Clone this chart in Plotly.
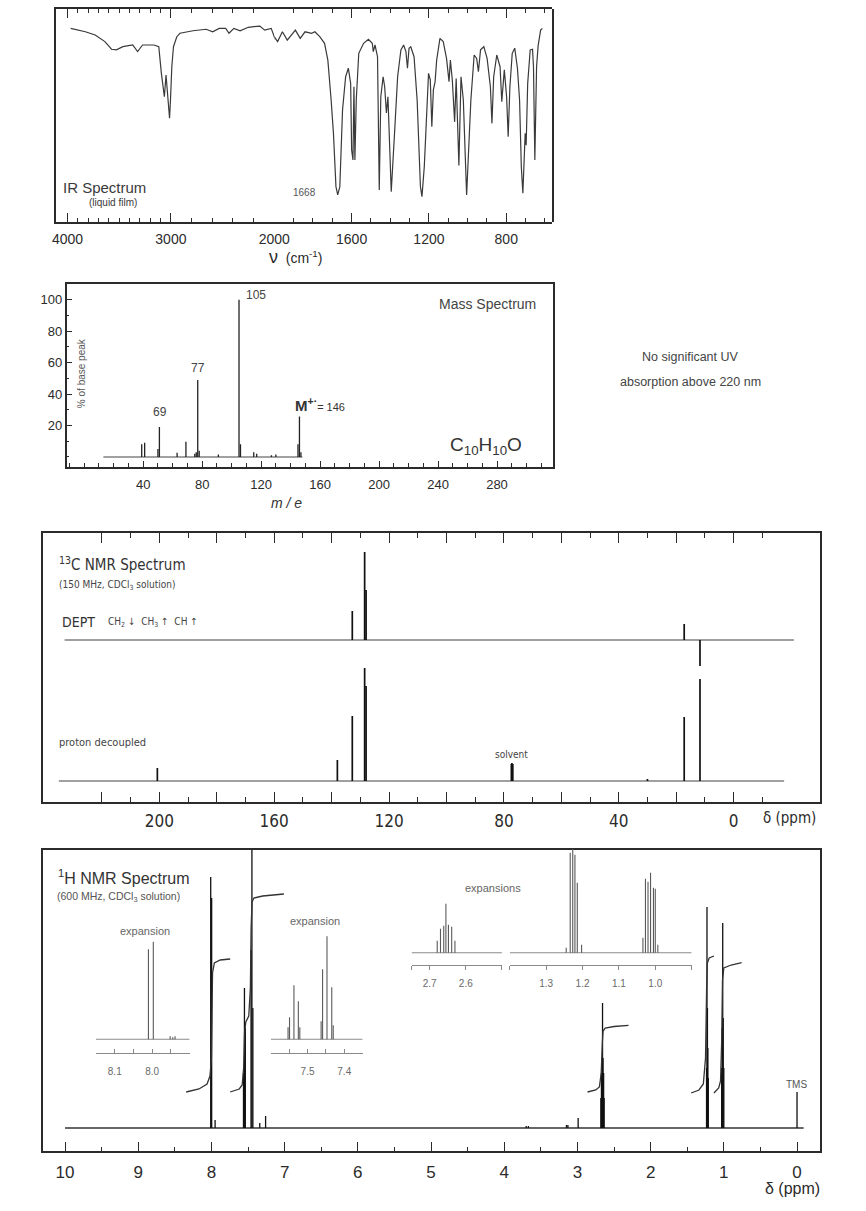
import plotly.graph_objects as go

W, H = 866, 1211

# ---------------- data ----------------
# IR spectrum (wavenumber cm-1, transmittance %)
ir_wavenumber = [3969, 3827, 3732, 3638, 3574, 3527, 3464, 3369, 3322, 3274,
                 3164, 3117, 3092, 3076, 3063, 3047, 3038, 3022, 3013, 3004,
                 2991, 2975, 2943, 2912, 2786, 2659, 2596, 2533, 2470, 2438,
                 2391, 2331, 2252, 2140, 2093, 2030, 1983, 1958, 1933, 1891,
                 1866, 1841, 1807, 1790, 1765, 1740, 1723, 1706, 1694, 1681,
                 1672, 1661, 1647, 1631, 1617, 1605, 1600, 1593, 1588, 1583,
                 1576, 1563, 1538, 1513, 1493, 1488, 1479, 1466, 1457, 1449,
                 1437, 1429, 1420, 1412, 1395, 1378, 1362, 1345, 1331, 1319,
                 1311, 1303, 1294, 1277, 1261, 1244, 1236, 1224, 1210, 1202,
                 1193, 1185, 1177, 1168, 1160, 1143, 1126, 1109, 1096, 1089,
                 1079, 1067, 1059, 1045, 1034, 1022, 1005, 983, 966, 953,
                 944, 933, 916, 899, 882, 874, 865, 849, 832, 823,
                 810, 798, 790, 781, 769, 756, 742, 731, 722, 714,
                 702, 697, 689, 676, 664, 659, 652, 643, 635, 622,
                 613]
ir_transmittance = [90.9, 89.3, 87.8, 84.7, 81.1, 80.8, 82.3, 83.1, 80.0, 83.1,
                    83.1, 82.3, 69.8, 63.5, 58.8, 69.0, 63.5, 57.3, 48.7, 57.3,
                    72.9, 82.3, 87.0, 88.6, 89.8, 90.5, 89.3, 90.9, 90.9, 88.6,
                    90.9, 89.8, 91.4, 92.0, 90.1, 90.9, 84.7, 89.3, 85.4, 90.1,
                    86.2, 89.3, 88.6, 89.3, 87.0, 83.9, 76.0, 57.3, 41.6, 16.6,
                    12.7, 16.6, 52.6, 68.2, 72.2, 65.1, 33.8, 29.1, 63.5, 29.1,
                    57.3, 79.2, 83.9, 85.8, 83.9, 80.0, 83.1, 77.6, 15.0, 58.8,
                    68.2, 63.5, 51.2, 58.8, 14.2, 41.6, 68.2, 80.8, 83.1, 80.0,
                    72.2, 81.6, 82.3, 77.6, 57.3, 16.6, 11.9, 26.0, 57.3, 69.8,
                    66.7, 44.7, 62.0, 65.9, 76.0, 86.2, 84.7, 76.8, 65.9, 76.0,
                    66.7, 47.0, 67.4, 26.5, 68.2, 57.3, 12.7, 57.3, 78.4, 76.8,
                    70.6, 80.8, 82.3, 76.8, 63.5, 46.3, 68.2, 78.4, 72.9, 56.5,
                    71.4, 58.8, 40.0, 63.5, 79.2, 81.6, 72.2, 57.3, 26.0, 13.5,
                    41.6, 36.0, 65.1, 80.8, 81.1, 72.9, 29.1, 72.9, 82.8, 90.1,
                    90.9]
ir_ticks_high = [4000, 3000, 2000]
ir_ticks_low = [1600, 1200, 800]

# Mass spectrum (m/e, % of base peak)
ms_mz = [39, 41, 50, 51, 63, 69, 75, 76, 77, 78, 91, 105, 106, 115, 117, 127, 130, 145, 146, 147]
ms_intensity = [8, 9, 5, 19, 2.6, 9.7, 2, 3, 49, 4, 1.5, 100, 8, 3, 2, 1, 1.5, 8, 25.8, 3]
ms_scan = [13, 148]
ms_xticks = [40, 80, 120, 160, 200, 240, 280]
ms_yticks = [20, 40, 60, 80, 100]

# 13C NMR (ppm, relative height)
c13_ppm = [200.7, 138.0, 132.8, 128.5, 128.0, 77.4, 77.2, 76.9, 30.0, 17.2, 11.7]
c13_height = [13, 21, 65, 113, 95, 17, 18, 17, 2, 64, 102]
dept_ppm = [132.8, 128.5, 128.0, 17.2, 11.7]
dept_height = [29, 88, 50, 16, -26]
c13_scan = [235, -17.6]
dept_scan = [233, -21]
c13_ticks = [200, 160, 120, 80, 40, 0]

# 1H NMR (ppm, relative height)
h1_ppm = [8.010, 7.997, 7.950,
          7.562, 7.549, 7.537, 7.459, 7.447, 7.434, 7.340, 7.260,
          3.700, 3.670, 3.150, 3.130, 2.990,
          2.680, 2.672, 2.664, 2.657, 2.650, 2.642, 2.635,
          1.236, 1.230, 1.224, 1.218, 1.212,
          1.030, 1.022, 1.015, 1.008, 1.000, 0.000]
h1_height = [251, 230, 8,
             55, 140, 100, 178, 278, 120, 5, 12,
             2, 2, 3, 3, 10,
             30, 55, 70, 125, 70, 55, 30,
             60, 221, 120, 80, 50,
             60, 100, 205, 110, 60, 36]
h1_scan = [10.0, -0.09]
h1_ticks = [10, 9, 8, 7, 6, 5, 4, 3, 2, 1, 0]

# integral curves (ppm, integral trace height)
int1_ppm = [8.345, 8.17, 8.06, 8.02, 8.00, 7.99, 7.985, 7.96, 7.88, 7.744]
int1_val = [36, 39, 44, 52, 70, 110, 155, 165, 168, 169]
int2_ppm = [7.744, 7.62, 7.58, 7.56, 7.548, 7.53, 7.49, 7.468, 7.458, 7.445, 7.42, 7.30, 7.01]
int2_val = [36, 39, 43, 60, 95, 106, 112, 140, 200, 226, 230, 232, 234]
int3_ppm = [2.862, 2.75, 2.70, 2.675, 2.66, 2.65, 2.62, 2.50, 2.302]
int3_val = [36, 38, 41, 55, 85, 97, 100, 101.5, 102.7]
int4_ppm = [1.447, 1.34, 1.28, 1.25, 1.235, 1.225, 1.20, 1.135]
int4_val = [35, 38, 44, 70, 140, 165, 170, 172]
int5_ppm = [1.135, 1.07, 1.045, 1.03, 1.018, 1.00, 0.90, 0.757]
int5_val = [35, 40, 47, 85, 148, 160, 163, 165.3]

# expansions
exp1_range = [8.15, 7.90]
exp1_ppm = [8.010, 7.997, 7.952, 7.945, 7.939]
exp1_height = [90, 97.6, 3, 2, 3]
exp1_ticks = [8.1, 8.0]
exp1_minor = [8.15, 8.05, 7.95, 7.90]

exp2_range = [7.60, 7.35]
exp2_ppm = [7.553, 7.549, 7.537, 7.525, 7.521, 7.463, 7.459, 7.447, 7.434, 7.430]
exp2_height = [12, 22, 54, 38, 12, 18, 70, 103, 52, 14]
exp2_ticks = [7.5, 7.4]
exp2_minor = [7.60, 7.55, 7.45, 7.35]

exp3_range = [2.75, 2.50]
exp3_ppm = [2.679, 2.670, 2.661, 2.655, 2.648, 2.639, 2.630]
exp3_height = [12, 24, 27, 49, 28, 26, 12]
exp3_ticks = [2.7, 2.6]
exp3_minor = [2.75, 2.50]

exp4_range = [1.40, 0.90]
exp4_ppm = [1.245, 1.234, 1.227, 1.221, 1.2145, 1.2027,
            1.034, 1.027, 1.020, 1.013, 1.005, 1.000, 0.993]
exp4_height = [5, 100, 104, 98, 70, 8,
               15, 74, 71, 80, 65, 64, 8]
exp4_ticks = [1.3, 1.2, 1.1, 1.0]
exp4_minor = [1.4, 0.9]

# ---------------- layout helpers ----------------
FONT = "Liberation Sans, Arial, Helvetica, sans-serif"
NARROW = "Liberation Sans Narrow, DejaVu Sans Condensed, Arial Narrow, sans-serif"
INK = "#2b2b2b"


def xd(x0, x1):
    return [x0 / W, x1 / W]


def yd(top, bottom):
    return [1 - bottom / H, 1 - top / H]


def sticks(xs, hs):
    X, Y = [], []
    for x, h in zip(xs, hs):
        X += [x, x, None]
        Y += [0, h, None]
    return X, Y


fig = go.Figure()


def line(x, y, xa, ya, color=INK, width=1.2):
    fig.add_trace(go.Scatter(x=x, y=y, xaxis=xa, yaxis=ya, mode='lines',
                             line=dict(color=color, width=width),
                             hoverinfo='skip', showlegend=False))


def frame_pair(xa, ya):
    # empty trace so that the frame axis pair exists as a subplot
    fig.add_trace(go.Scatter(x=[None], y=[None], xaxis=xa, yaxis=ya, mode='lines',
                             hoverinfo='skip', showlegend=False))


# IR
frame_pair('x2', 'y2')
hi = [(v, t) for v, t in zip(ir_wavenumber, ir_transmittance) if v > 1950]
lo = [(v, t) for v, t in zip(ir_wavenumber, ir_transmittance) if v < 2050]
line([p[0] for p in hi], [p[1] for p in hi], 'x', 'y', '#3a3a3a', 1.2)
line([p[0] for p in lo], [p[1] for p in lo], 'x2', 'y', '#3a3a3a', 1.2)

# MS
line(ms_scan, [0, 0], 'x3', 'y3', '#444', 1.1)
sx, sy = sticks(ms_mz, ms_intensity)
line(sx, sy, 'x3', 'y3', '#222', 1.3)

# 13C
frame_pair('x4', 'y6')
line(dept_scan, [0, 0], 'x4', 'y4', '#808080', 1.6)
sx, sy = sticks(dept_ppm, dept_height)
line(sx, sy, 'x4', 'y4', '#111', 1.7)
line(c13_scan, [0, 0], 'x4', 'y5', '#808080', 1.6)
sx, sy = sticks(c13_ppm, c13_height)
line(sx, sy, 'x4', 'y5', '#111', 1.7)

# 1H main
frame_pair('x5', 'y8')
line(h1_scan, [0, 0], 'x5', 'y7', '#333', 1.3)
sx, sy = sticks(h1_ppm, h1_height)
line(sx, sy, 'x5', 'y7', '#111', 1.3)
for ip, iv in [(int1_ppm, int1_val), (int2_ppm, int2_val), (int3_ppm, int3_val),
               (int4_ppm, int4_val), (int5_ppm, int5_val)]:
    line(ip, iv, 'x5', 'y7', '#333', 1.3)

# expansions
for xa, ya, rng, pp, hh in [('x6', 'y9', exp1_range, exp1_ppm, exp1_height),
                            ('x7', 'y10', exp2_range, exp2_ppm, exp2_height),
                            ('x8', 'y11', exp3_range, exp3_ppm, exp3_height),
                            ('x9', 'y12', exp4_range, exp4_ppm, exp4_height)]:
    line(rng, [0, 0], xa, ya, '#8a8a8a', 1.1)
    sx, sy = sticks(pp, hh)
    line(sx, sy, xa, ya, '#5a5a5a', 1.1)


# ---------------- axes ----------------
def base_axis(**kw):
    d = dict(showgrid=False, zeroline=False, linecolor=INK, tickcolor=INK,
             tickfont=dict(family=FONT, size=14, color=INK))
    d.update(kw)
    return d


def labels(vals, shown):
    return [str(v) if v in shown else '' for v in vals]


layout_axes = {}
# IR
layout_axes['xaxis'] = base_axis(domain=xd(53, 276.7), range=[4113, 2000], anchor='y',
                                 showline=True, linewidth=1.5, mirror='ticks', ticks='inside',
                                 ticklen=9, tickwidth=1.2, tickmode='array',
                                 tickvals=ir_ticks_high, ticktext=[str(v) for v in ir_ticks_high],
                                 ticklabelstandoff=3,
                                 minor=dict(tickvals=list(range(3800, 2000, -200)) + [3900, 3700, 3500, 3300, 3100],
                                            ticklen=4, tickcolor=INK, ticks='inside'))
layout_axes['xaxis2'] = base_axis(domain=xd(276.7, 561), range=[2000, 563], anchor='y',
                                  showline=True, linewidth=1.5, mirror='ticks', ticks='inside',
                                  ticklen=9, tickwidth=1.2, tickmode='array',
                                  tickvals=ir_ticks_low, ticktext=[str(v) for v in ir_ticks_low],
                                  ticklabelstandoff=3,
                                  minor=dict(tickvals=[v for v in range(1900, 550, -100) if v not in ir_ticks_low],
                                             ticklen=4, tickcolor=INK, ticks='inside'))
layout_axes['yaxis'] = base_axis(domain=yd(9, 222), range=[0, 100], anchor='x', showline=True,
                                 linewidth=1.5, ticks='', showticklabels=False)
layout_axes['yaxis2'] = base_axis(domain=yd(9, 222), range=[0, 100], anchor='x2', side='right',
                                  showline=True, linewidth=1.5, ticks='', showticklabels=False)
# MS
layout_axes['xaxis3'] = base_axis(domain=xd(64, 562), range=[-12, 318], anchor='y3',
                                  showline=True, linewidth=1.5, mirror=True, ticks='inside',
                                  ticklen=6, tickmode='array', tickvals=ms_xticks,
                                  ticktext=[str(v) for v in ms_xticks],
                                  ticklabelstandoff=5, tickfont=dict(family=FONT, size=13, color=INK),
                                  minor=dict(dtick=10, ticklen=4, tickcolor=INK, ticks='inside'))
layout_axes['yaxis3'] = base_axis(domain=yd(284, 467), range=[-6.4, 110], anchor='x3',
                                  showline=True, linewidth=1.5, mirror=True, ticks='inside',
                                  ticklen=6, tickmode='array', tickvals=ms_yticks,
                                  ticktext=[str(v) for v in ms_yticks],
                                  tickfont=dict(family=FONT, size=13, color=INK),
                                  minor=dict(dtick=10, ticklen=3, tickcolor=INK, ticks='inside'))
# 13C
c13_major = list(range(220, -1, -20))
layout_axes['xaxis4'] = base_axis(domain=xd(40, 835), range=[240.5, -30], anchor='y6',
                                  showline=True, linewidth=1.5, mirror='ticks', ticks='inside',
                                  ticklen=10, tickwidth=1.2, tickmode='array', tickvals=c13_major,
                                  ticktext=labels(c13_major, c13_ticks), ticklabelstandoff=3,
                                  tickfont=dict(family=NARROW, size=17, color=INK),
                                  minor=dict(tickvals=list(range(210, -11, -20)), ticklen=5,
                                             tickcolor=INK, ticks='inside'))
layout_axes['yaxis6'] = base_axis(domain=yd(533, 802), range=[0, 1], anchor='x4', showline=True,
                                  linewidth=1.5, mirror=True, ticks='', showticklabels=False)
layout_axes['yaxis4'] = dict(domain=yd(545, 670), range=[-30, 95], anchor='x4', visible=False)
layout_axes['yaxis5'] = dict(domain=yd(651, 796), range=[-15, 130], anchor='x4', visible=False)
# 1H
layout_axes['xaxis5'] = base_axis(domain=xd(40, 835), range=[10.30, -0.31], anchor='y8',
                                  showline=True, linewidth=1.5, mirror=True, ticks='inside',
                                  ticklen=9, tickwidth=1.2, tickmode='array', tickvals=h1_ticks,
                                  ticktext=[str(v) for v in h1_ticks], ticklabelstandoff=5,
                                  tickfont=dict(family=FONT, size=17, color=INK),
                                  minor=dict(tickvals=[v + 0.5 for v in h1_ticks[1:]], ticklen=4,
                                             tickcolor=INK, ticks='inside'))
layout_axes['yaxis8'] = base_axis(domain=yd(850, 1151), range=[0, 1], anchor='x5', showline=True,
                                  linewidth=1.5, mirror=True, ticks='', showticklabels=False)
layout_axes['yaxis7'] = dict(domain=yd(845, 1151), range=[-23, 283], anchor='x5', visible=False)


def inset_x(dom, rng, anchor, vals, minor_vals, ticks, standoff):
    return base_axis(domain=xd(*dom), range=rng, anchor=anchor, showline=True, linewidth=1,
                     linecolor='#8a8a8a', tickcolor='#8a8a8a', ticks=ticks, ticklen=4,
                     tickmode='array', tickvals=vals, ticktext=['%.1f' % v for v in vals],
                     ticklabelstandoff=standoff,
                     tickfont=dict(family=FONT, size=10, color='#6a6a6a'),
                     minor=dict(tickvals=minor_vals, ticklen=4, tickcolor='#8a8a8a', ticks=ticks))


layout_axes['xaxis6'] = inset_x((94.2, 190.0), exp1_range, 'y9', exp1_ticks, exp1_minor, 'inside', 9)
layout_axes['xaxis7'] = inset_x((273.1, 367.1), exp2_range, 'y10', exp2_ticks, exp2_minor, 'inside', 9)
layout_axes['xaxis8'] = inset_x((417.2, 509.7), exp3_range, 'y11', exp3_ticks, exp3_minor, 'outside', 5)
layout_axes['xaxis9'] = inset_x((517.8, 703.9), exp4_range, 'y12', exp4_ticks, exp4_minor, 'outside', 5)
layout_axes['yaxis9'] = dict(domain=yd(935, 1052.7), range=[-13.4, 104.3], anchor='x6', visible=False)
layout_axes['yaxis10'] = dict(domain=yd(935, 1052.7), range=[-13.4, 104.3], anchor='x7', visible=False)
layout_axes['yaxis11'] = dict(domain=yd(840, 965), range=[-12.3, 112.7], anchor='x8', visible=False)
layout_axes['yaxis12'] = dict(domain=yd(840, 965), range=[-12.3, 112.7], anchor='x9', visible=False)

# ---------------- text ----------------
anns = []


def ann(text, x, y, size, xanchor='center', color=INK, family=FONT, angle=0):
    anns.append(dict(text=text, x=x / W, y=1 - y / H, xref='paper', yref='paper',
                     xanchor=xanchor, yanchor='middle', showarrow=False, textangle=angle,
                     font=dict(family=family, size=size, color=color)))


# IR
ann("IR Spectrum", 58, 188, 15, 'left', '#3a3a3a')
ann("(liquid film)", 112, 203, 10, 'center', '#3a3a3a')
ann("1668", 308, 193, 10, 'center', '#555')
ann("<span style='font-size:18px'>ν</span>  (cm<sup>-1</sup>)", 299, 257, 14)
# MS
ann("105", 258, 295, 12, 'center', '#444')
ann("77", 199, 368, 12, 'center', '#444')
ann("69", 160, 412, 12, 'center', '#444')
ann("<b>M<sup>+·</sup></b><span style='font-size:11px'>= 146</span>", 296, 404, 15, 'left', '#333')
ann("Mass Spectrum", 547, 304, 14, 'right', '#444')
ann("C<sub>10</sub>H<sub>10</sub>O", 493, 446, 19, 'center', '#333')
ann("% of base peak", 80, 373, 10, 'center', '#555', angle=-90)
ann("<i>m / e</i>", 289, 503, 14, 'center', '#333')
# UV
ann("No significant UV", 703, 357, 12.5, 'center', '#444')
ann("absorption above 220 nm", 703, 382, 12.5, 'center', '#444')
# 13C
ann("<sup>13</sup>C NMR Spectrum", 54, 564, 15, 'left', '#333', NARROW)
ann("(150 MHz, CDCl<sub>3</sub> solution)", 54, 585, 10, 'left', '#444', NARROW)
ann("DEPT", 57, 622, 14, 'left', '#333', NARROW)
ann("CH<sub>2</sub> ↓  CH<sub>3</sub> ↑  CH ↑", 104, 622, 10, 'left', '#444', NARROW)
ann("proton decoupled", 54, 742, 11, 'left', '#444', NARROW)
ann("solvent", 519, 754, 10, 'center', '#444', NARROW)
ann("δ (ppm)", 804, 818, 15, 'center', INK, NARROW)
# 1H
ann("<sup>1</sup>H NMR Spectrum", 53, 877, 16, 'left', '#333')
ann("(600 MHz, CDCl<sub>3</sub> solution)", 52, 897, 10.5, 'left', '#555')
ann("expansion", 144, 931, 11, 'center', '#666')
ann("expansion", 318, 921, 11, 'center', '#666')
ann("expansions", 501, 888, 11, 'center', '#666')
ann("TMS", 811, 1084, 10, 'center', '#555')
ann("δ (ppm)", 807, 1188, 16, 'center', INK)

fig.update_layout(width=W, height=H, margin=dict(l=0, r=0, t=0, b=0),
                  paper_bgcolor='white', plot_bgcolor='rgba(0,0,0,0)', showlegend=False,
                  font=dict(family=FONT, color=INK), annotations=anns, **layout_axes)

fig.write_html("out.html", config={'displayModeBar': False},
               post_script="document.body.style.margin='0';document.body.style.overflow='hidden';")
